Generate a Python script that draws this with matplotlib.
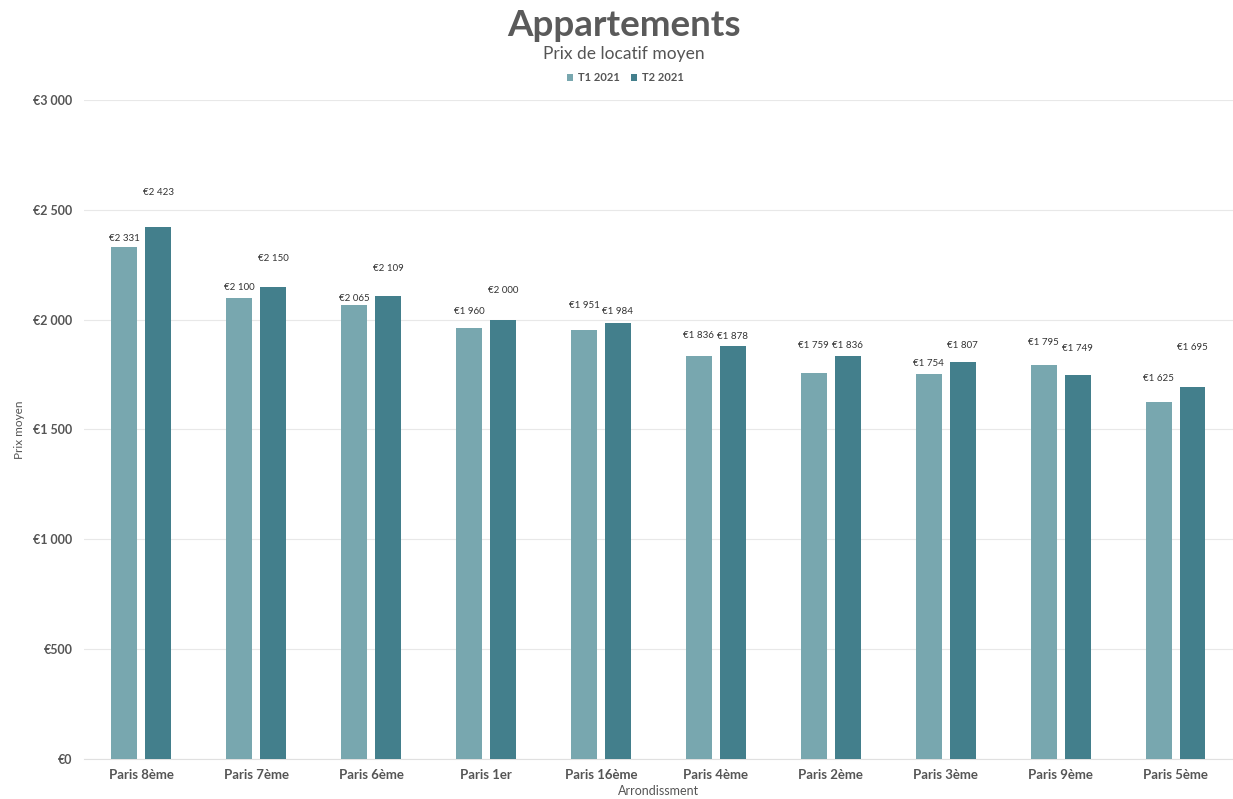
import numpy as np
import matplotlib.pyplot as plt
from matplotlib.ticker import FuncFormatter

plt.rcParams['font.family'] = ['Lato', 'DejaVu Sans']

# --- data ---
arrondissements = ['Paris 8ème', 'Paris 7ème', 'Paris 6ème', 'Paris 1er', 'Paris 16ème',
                   'Paris 4ème', 'Paris 2ème', 'Paris 3ème', 'Paris 9ème', 'Paris 5ème']
t1_2021 = [2331, 2100, 2065, 1960, 1951, 1836, 1759, 1754, 1795, 1625]
t2_2021 = [2423, 2150, 2109, 2000, 1984, 1878, 1836, 1807, 1749, 1695]

# label offsets above bar top (points) - mimic the staggered placement of the original
t1_off = [3, 4, 2, 9, 15, 11, 16, 4, 13, 14]
t2_off = [21, 17, 16, 18, 5, 4, 4, 9, 16, 25]

c1, c2 = '#78a7af', '#437f8c'
grey = '#555555'

def euro(v, pos=None):
    return '€' + f'{int(v):,}'.replace(',', ' ')

fig = plt.figure(figsize=(12.33, 7.99), dpi=100)
ax = fig.add_axes([0.068, 0.05, 0.932, 0.825])

x = np.arange(len(arrondissements))
w = 0.225
off = w / 2 + 0.035
b1 = ax.bar(x - off, t1_2021, w, color=c1, label='T1 2021', zorder=3)
b2 = ax.bar(x + off, t2_2021, w, color=c2, label='T2 2021', zorder=3)

for bars, vals, offs in [(b1, t1_2021, t1_off), (b2, t2_2021, t2_off)]:
    for r, v, o in zip(bars, vals, offs):
        ax.annotate(euro(v), (r.get_x() + r.get_width() / 2, v), xytext=(0, o),
                    textcoords='offset points', ha='center', va='bottom',
                    fontsize=7, color='#333333')

ax.set_ylim(0, 3000)
ax.set_xlim(-0.5, len(arrondissements) - 0.5)
ax.set_yticks(np.arange(0, 3001, 500))
ax.yaxis.set_major_formatter(FuncFormatter(euro))
ax.set_xticks(x)
ax.set_xticklabels(arrondissements, fontsize=9.5, fontweight='bold', color=grey)
for t in ax.get_yticklabels():
    t.set_fontsize(9)
    t.set_fontweight('bold')
    t.set_color(grey)
ax.tick_params(length=0, pad=8)
ax.tick_params(axis='x', pad=7)
ax.grid(axis='y', color='#e8e8e8', linewidth=0.8, zorder=0)
for s in ['top', 'right', 'left']:
    ax.spines[s].set_visible(False)
ax.spines['bottom'].set_color('#e0e0e0')

ax.set_ylabel('Prix moyen', fontsize=8.5, color=grey, labelpad=6)
ax.set_xlabel('Arrondissment', fontsize=9, color=grey, labelpad=3)

fig.text(0.506, 0.968, 'Appartements', ha='center', va='center',
         fontsize=26.5, fontweight='bold', color='#5a5a5a')
fig.text(0.506, 0.933, 'Prix de locatif moyen', ha='center', va='center',
         fontsize=12.5, color='#555555')
fig.legend(handles=[b1, b2], loc='center', bbox_to_anchor=(0.507, 0.903), ncol=2,
           frameon=False, handlelength=0.6, handleheight=0.6,
           handletextpad=0.4, columnspacing=1.0, prop={'weight': 'bold', 'size': 8})
for t in fig.legends[0].get_texts():
    t.set_color(grey)

fig.savefig('out.png', dpi=100)
